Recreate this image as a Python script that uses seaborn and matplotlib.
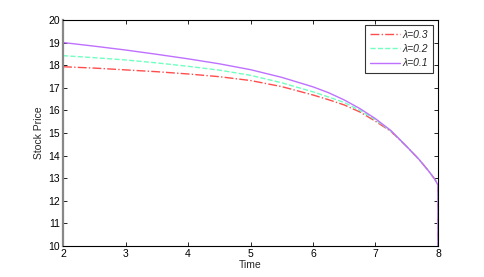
import matplotlib
matplotlib.use("Agg")
import matplotlib.pyplot as plt
import seaborn as sns
import pandas as pd

sns.set_theme(style="white")
plt.rcParams['font.family'] = ['Liberation Sans', 'DejaVu Sans']

time = [2, 2.5, 3, 3.5, 4, 4.5, 5, 5.5, 6, 6.25, 6.5, 6.75, 7, 7.25, 7.5, 7.7, 7.85, 7.95, 8.0, 8.0]
price_03 = [17.93, 17.87, 17.79, 17.71, 17.61, 17.49, 17.32, 17.05, 16.68, 16.47, 16.24, 15.93, 15.52,
            15.06, 14.40, 13.82, 13.32, 12.95, 12.70, 10.0]
price_02 = [18.42, 18.33, 18.23, 18.10, 17.95, 17.78, 17.55, 17.22, 16.82, 16.59, 16.35, 16.00, 15.58,
            15.08, 14.40, 13.82, 13.32, 12.95, 12.70, 10.0]
price_01 = [19.00, 18.84, 18.67, 18.48, 18.28, 18.06, 17.80, 17.46, 17.04, 16.78, 16.46, 16.08, 15.63,
            15.10, 14.40, 13.82, 13.32, 12.95, 12.70, 10.0]
labels = ['λ=0.3', 'λ=0.2', 'λ=0.1']
colors = ['#ff4d4d', '#70ffc0', '#bf70ff']
styles = ['-.', '--', '-']

fig = plt.figure(figsize=(4.85, 2.77), dpi=100)
ax = fig.add_axes([0.13, 0.112, 0.773, 0.816])

for vals, lab, col, ls in zip([price_03, price_02, price_01], labels, colors, styles):
    df = pd.DataFrame({'Time': time, 'Price': vals})
    sns.lineplot(data=df, x='Time', y='Price', ax=ax, estimator=None, sort=False,
                 color=col, linestyle=ls, linewidth=1.0, label=lab)

ax.set_xlim(2, 8)
ax.set_ylim(10, 20)
ax.set_xticks(range(2, 9))
ax.set_yticks(range(10, 21))
ax.tick_params(direction='in', length=3, width=0.6, labelsize=7.5, pad=2,
               top=True, right=True, left=True, bottom=True, colors='black')
ax.set_xlabel('Time', fontsize=7.5, labelpad=1)
ax.set_ylabel('Stock Price', fontsize=7.5, labelpad=3)
for s in ax.spines.values():
    s.set_color('black')
    s.set_linewidth(0.8)
    s.set_visible(True)
ax.spines['left'].set_color('#888888')
ax.spines['left'].set_linewidth(1.6)

leg = ax.legend(loc='upper right', fontsize=7.5, frameon=True, fancybox=False,
                edgecolor='black', handlelength=2.9, borderpad=0.5, labelspacing=0.4,
                handletextpad=0.25, borderaxespad=0.45)
leg.get_frame().set_linewidth(0.8)
for t in leg.get_texts():
    t.set_fontstyle('italic')

fig.savefig('out.png', dpi=100)
